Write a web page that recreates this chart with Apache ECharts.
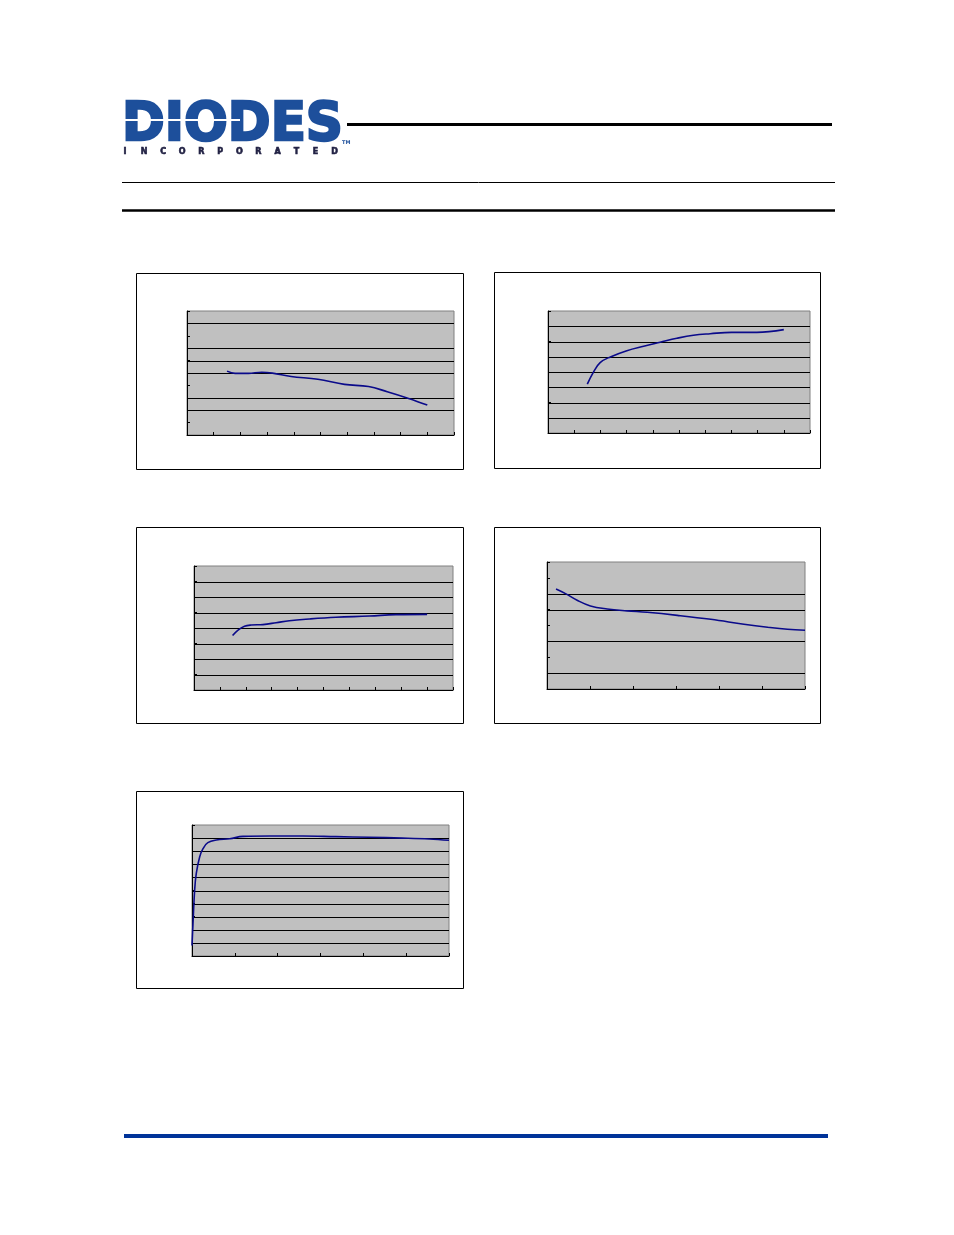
<!DOCTYPE html>
<html>
<head>
<meta charset="utf-8">
<script src="https://cdn.jsdelivr.net/npm/echarts@6/dist/echarts.min.js"></script>
<style>
html,body{margin:0;padding:0;background:#fff;}
#main{width:954px;height:1235px;}
</style>
</head>
<body>
<div id="main"></div>
<script>
// ---- Chart 1 (falling curve) ----
const c1X = [1.5, 1.8, 2.3, 2.8, 3.2, 3.9, 4.9, 5.9, 6.8, 7.5, 8.3, 9.0];
const c1Y = [5.15, 4.97, 4.97, 5.06, 4.99, 4.72, 4.50, 4.08, 3.91, 3.49, 2.95, 2.41];
const c1Grid = [9, 7, 6, 5, 3, 2];
// ---- Chart 2 (rising curve) ----
const c2X = [1.5, 1.74, 1.99, 2.38, 3.01, 3.65, 4.28, 4.92, 5.55, 6.19, 7.01, 7.97, 9.0];
const c2Y = [3.2, 4.01, 4.62, 4.99, 5.40, 5.69, 5.95, 6.21, 6.41, 6.51, 6.60, 6.60, 6.78];
const c2Grid = [7, 6, 5, 4, 3, 2, 1];
// ---- Chart 3 (slowly rising curve) ----
const c3X = [1.49, 1.69, 1.95, 2.21, 2.66, 3.17, 3.68, 4.45, 5.48, 6.77, 7.79, 9.0];
const c3Y = [3.51, 3.85, 4.11, 4.19, 4.22, 4.34, 4.47, 4.58, 4.69, 4.77, 4.86, 4.88];
const c3Grid = [7, 6, 5, 4, 3, 2, 1];
// ---- Chart 4 (declining curve) ----
const c4X = [0.21, 0.43, 0.70, 1.01, 1.40, 1.86, 2.33, 3.03, 3.81, 4.58, 5.13, 5.59, 6.0];
const c4Y = [6.30, 6.01, 5.59, 5.23, 5.04, 4.92, 4.83, 4.64, 4.39, 4.08, 3.89, 3.76, 3.70];
const c4Grid = [6, 5, 3, 1];
// ---- Chart 5 (fast rise then flat) ----
const c5X = [0.0, 0.023, 0.062, 0.10, 0.18, 0.26, 0.37, 0.57, 0.88, 1.19, 1.81, 2.59, 3.36, 4.14, 4.91, 5.54, 6.0];
const c5Y = [0.8, 2.47, 5.03, 6.30, 7.58, 8.21, 8.65, 8.85, 8.95, 9.13, 9.16, 9.16, 9.11, 9.06, 9.00, 8.93, 8.83];
const c5Grid = [9, 8, 7, 6, 5, 4, 3, 2, 1];

const incLetters = ['I','N','C','O','R','P','O','R','A','T','E','D'];

const charts = [
  {x: c1X, y: c1Y, g: c1Grid, xmax: 10, ymax: 10, grid: {left: 187, top: 311, width: 267, height: 124}, box: [136.5, 273.5, 327, 196]},
  {x: c2X, y: c2Y, g: c2Grid, xmax: 10, ymax: 8,  grid: {left: 548, top: 311, width: 262, height: 122}, box: [494.5, 272.5, 326, 196]},
  {x: c3X, y: c3Y, g: c3Grid, xmax: 10, ymax: 8,  grid: {left: 194, top: 566, width: 259, height: 124}, box: [136.5, 527.5, 327, 196]},
  {x: c4X, y: c4Y, g: c4Grid, xmax: 6,  ymax: 8,  grid: {left: 547, top: 562, width: 258, height: 127}, box: [494.5, 527.5, 326, 196]},
  {x: c5X, y: c5Y, g: c5Grid, xmax: 6,  ymax: 10, grid: {left: 192, top: 825, width: 257, height: 131}, box: [136.5, 791.5, 327, 197]}
];

const grids = [], xAxes = [], yAxes = [], series = [];
charts.forEach((c, i) => {
  grids.push(Object.assign({show: true, backgroundColor: '#c0c0c0', borderColor: '#808080', borderWidth: 1, containLabel: false}, c.grid));
  const axisCommon = {
    gridIndex: i, min: 0, interval: 1,
    axisLine: {show: true, lineStyle: {color: '#000', width: 1}},
    axisTick: {show: true, inside: true, length: 3, lineStyle: {color: '#000', width: 1}},
    axisLabel: {show: false},
    splitLine: {show: false}
  };
  xAxes.push(Object.assign({type: 'value', max: c.xmax}, axisCommon));
  yAxes.push(Object.assign({type: 'value', max: c.ymax}, axisCommon));
  series.push({
    type: 'custom', xAxisIndex: i, yAxisIndex: i, z: 1, silent: true,
    data: c.g.map(v => [0, v]),
    encode: {x: 0, y: 1},
    renderItem: function (params, api) {
      const cs = params.coordSys;
      const y = Math.round(api.coord([0, api.value(1)])[1]) + 0.5;
      return {type: 'line', shape: {x1: cs.x, y1: y, x2: cs.x + cs.width, y2: y}, style: {stroke: '#000', lineWidth: 1}};
    }
  });
  series.push({
    type: 'line', xAxisIndex: i, yAxisIndex: i, z: 3,
    smooth: 0.4, showSymbol: false, symbol: 'none', silent: true,
    lineStyle: {color: '#0a0a8a', width: 1.6},
    data: c.x.map((v, k) => [v, c.y[k]])
  });
});

const graphic = [];
charts.forEach(c => {
  graphic.push({type: 'rect', shape: {x: c.box[0], y: c.box[1], width: c.box[2], height: c.box[3]},
    style: {fill: 'none', stroke: '#000', lineWidth: 1}, z: -1, silent: true});
});
// header lines
graphic.push({type: 'line', shape: {x1: 347, y1: 124.5, x2: 832, y2: 124.5}, style: {stroke: '#000', lineWidth: 3}});
graphic.push({type: 'line', shape: {x1: 122, y1: 182.5, x2: 835, y2: 182.5}, style: {stroke: '#000', lineWidth: 1}});
graphic.push({type: 'line', shape: {x1: 122, y1: 210.5, x2: 835, y2: 210.5}, style: {stroke: '#000', lineWidth: 2.5}});
// footer blue line
graphic.push({type: 'rect', shape: {x: 124, y: 1134, width: 704, height: 4}, style: {fill: '#003399'}});
// logo
graphic.push({type: 'text', x: 122, y: 126, scaleX: 0.955,
  style: {text: 'DIODES', font: 'bold 54px "DejaVu Sans"', fill: '#1d4f9b', stroke: '#1d4f9b', lineWidth: 2.5,
          verticalAlign: 'middle', align: 'left'}});
graphic.push({type: 'line', shape: {x1: 122, y1: 120, x2: 240, y2: 120}, style: {stroke: '#fff', lineWidth: 2}, z: 10});
graphic.push({type: 'text', x: 342, y: 143, style: {text: 'TM', font: 'bold 5px "DejaVu Sans"', fill: '#1d4f9b', verticalAlign: 'middle'}});
incLetters.forEach((ch, k) => {
  graphic.push({type: 'text', x: 125 + k * 19.06, y: 151.5,
    style: {text: ch, font: 'bold 8px "DejaVu Sans"', fill: '#222244', stroke: '#222244', lineWidth: 0.6,
            align: 'center', verticalAlign: 'middle'}});
});

const chart = echarts.init(document.getElementById('main'), null, {renderer: 'canvas'});
chart.setOption({
  animation: false,
  backgroundColor: '#fff',
  grid: grids,
  xAxis: xAxes,
  yAxis: yAxes,
  series: series,
  graphic: graphic
});
</script>
</body>
</html>
